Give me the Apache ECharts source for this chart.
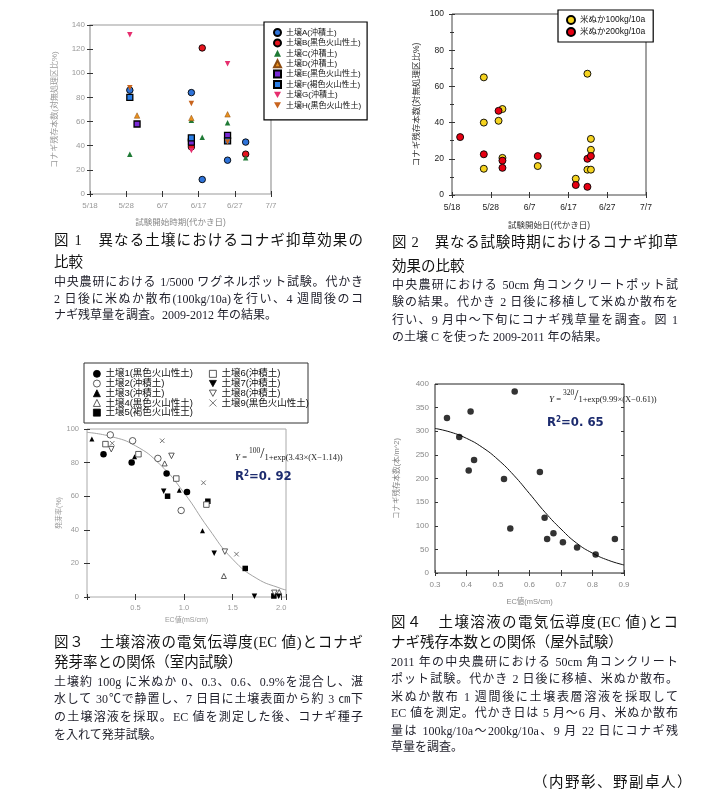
<!DOCTYPE html>
<html><head><meta charset="utf-8">
<script src="https://cdn.jsdelivr.net/npm/echarts/dist/echarts.min.js"></script>
<style>
html,body{margin:0;padding:0;background:#fff;width:705px;height:791px;overflow:hidden}
#chart{position:absolute;left:0;top:0;width:705px;height:791px}
.cap{position:absolute;white-space:nowrap;line-height:1;font-family:"Liberation Serif","Noto Sans CJK JP",serif;color:#1e1e2a}
.j{text-align:justify;text-align-last:justify}
.r{text-align:right}
</style></head><body>
<div id="chart"></div>
<div id="caps"></div>
<script>
// ---------- DATA ----------
// Fig.1 : x = days after 5/18 (代かき日), y = コナギ残存本数(対無処理区比%)
const fig1DateTicks = ['5/18','5/28','6/7','6/17','6/27','7/7'];
const soilA = [[11,86],[28,84],[31,12],[38,28],[43,43]];
const soilB = [[31,121],[28,39],[43,33]];
const soilC = [[11,33],[28,61],[31,47],[38,59],[43,30]];
const soilD = [[13,65],[28,63],[38,66]];
const soilE = [[13,58],[28,43],[38,48.5]];
const soilF = [[11,80],[28,46.5],[38,44]];
const soilG = [[11,132],[28,36],[38,108]];
const soilH = [[11,88],[28,75],[38,43]];
const fig1Names = ['土壌A(沖積土)','土壌B(黒色火山性土)','土壌C(沖積土)','土壌D(沖積土)','土壌E(黒色火山性土)','土壌F(褐色火山性土)','土壌G(沖積土)','土壌H(黒色火山性土)'];

// Fig.2 : x = days after 5/18
const fig2DateTicks = ['5/18','5/28','6/7','6/17','6/27','7/7'];
const rice100 = [[8.2,65],[8.2,40],[8.2,14.5],[12,41],[13,47.5],[13,20.5],[22.1,16],[31.9,9],[34.9,67],[34.9,14],[35.8,14],[35.8,31],[35.8,25]];
const rice200 = [[2.1,32],[8.2,22.5],[12,46.5],[13,19],[13,15],[22.1,21.5],[31.9,5.5],[34.9,20],[34.9,4.5],[35.8,21.5]];
const fig2Names = ['米ぬか100kg/10a','米ぬか200kg/10a'];

// Fig.3 : x = EC値(mS/cm), y = 発芽率(%)
const soil1 = [[0.17,85],[0.46,80],[0.82,73.5],[1.03,62.5]];
const soil2 = [[0.24,96.5],[0.47,93],[0.73,82.5],[0.97,51.5]];
const soil3 = [[0.05,94],[0.49,83.5],[0.95,63.5],[1.19,39.5]];
const soil4 = [[0.80,79.5],[1.41,12.5],[1.98,3]];
const soil5 = [[0.83,60],[1.245,57],[1.63,17],[1.925,0.6]];
const soil6 = [[0.19,91],[0.53,85],[0.92,70.5],[1.23,55]];
const soil7 = [[0.79,63],[1.31,26],[1.725,0.5],[1.975,0.5]];
const soil8 = [[0.25,88],[0.87,84],[1.42,27],[1.93,2.5]];
const soil9 = [[0.26,91.5],[0.775,93],[1.2,68],[1.54,25.5]];
const fig3Names = ['土壌1(黒色火山性土)','土壌2(沖積土)','土壌3(沖積土)','土壌4(黒色火山性土)','土壌5(褐色火山性土)','土壌6(沖積土)','土壌7(沖積土)','土壌8(沖積土)','土壌9(黒色火山性土)'];
const fig3CurveX = [0,0.25,0.5,0.75,1.0,1.25,1.5,1.75,2.0,2.05];
const fig3CurveY = [98,95.5,90,79,62,41,22.5,11,5,4.2];

// Fig.4 : x = EC値(mS/cm), y = コナギ残存本数(本/m^2)
const fig4EC    = [0.338,0.377,0.407,0.413,0.424,0.519,0.539,0.553,0.633,0.648,0.656,0.676,0.706,0.751,0.81,0.871];
const fig4Count = [328,288,217,342,239,199,94,384,214,117,72,84,65,54,39,72];
const fig4CurveX = [0.3,0.35,0.4,0.45,0.5,0.55,0.6,0.65,0.7,0.75,0.8,0.85,0.9];
const fig4CurveY = [306,298,285,266,240,207,168,128,93,63,42,27,17];

// ---------- CHART ----------
const SANS = '"Liberation Sans","Noto Sans CJK JP",sans-serif';
const NARROW = '"Liberation Sans Narrow","DejaVu Sans Condensed","Liberation Sans",sans-serif';
const DOWN = 'path://M0,0L10,0L5,9Z';
const CROSS = 'path://M0,0L10,10M10,0L0,10';

function grid(l,t,w,h,c,bw){return {left:l,top:t,width:w,height:h,show:true,borderColor:c,borderWidth:bw};}
function axis(gi,pos,min,max,interval,o){
  const a={type:'value',gridIndex:gi,position:pos,min:min,max:max,interval:interval,
    axisLine:{show:false},splitLine:{show:false},
    axisTick:{show:true,inside:true,length:o.tickLen||3,lineStyle:{color:o.tickColor||'#333',width:1}},
    axisLabel:{show:!!o.labels,color:o.labelColor||'#333',fontSize:o.fontSize||8,margin:o.margin||4,fontFamily:SANS,formatter:o.formatter}};
  if(o.minor){a.minorTick={show:true,splitNumber:o.minor,length:2,lineStyle:{color:o.tickColor||'#333'}};}
  if(o.name){a.name=o.name;a.nameLocation='middle';a.nameGap=o.nameGap;
    a.nameTextStyle={color:o.nameColor||'#333',fontSize:o.nameSize||8,fontFamily:SANS};}
  return a;
}
function sc(name,data,ai,symbol,size,color,bc,bw,z){
  return {type:'scatter',name:name,data:data,xAxisIndex:ai,yAxisIndex:ai,symbol:symbol,symbolSize:size,
    itemStyle:{color:color,borderColor:bc||color,borderWidth:bw||0,opacity:1},z:z||2,emphasis:{disabled:true}};
}
const dateFmt = ticks => v => { const i=Math.round(v/10); return (Math.abs(v-i*10)<1e-6 && ticks[i])?ticks[i]:''; };

const option={
  animation:false,
  textStyle:{fontFamily:SANS},
  grid:[grid(90,25,181,169,'#999',1.2),grid(452,14,194,181,'#444',1),grid(87,429,199,168,'#aaa',1),grid(435,384,189,189,'#222',1)],
  xAxis:[
    axis(0,'bottom',0,50,10,{labels:true,labelColor:'#999',fontSize:8,margin:8,formatter:dateFmt(fig1DateTicks),name:'試験開始時期(代かき日)',nameGap:24,nameColor:'#888',nameSize:8.5}),
    axis(0,'top',0,50,10,{}),
    axis(1,'bottom',0,50,10,{labels:true,labelColor:'#222',fontSize:8.5,margin:8,formatter:dateFmt(fig2DateTicks),name:'試験開始日(代かき日)',nameGap:26,nameColor:'#333',nameSize:8.5}),
    axis(1,'top',0,50,10,{}),
    axis(2,'bottom',0,2.05,0.5,{labels:true,labelColor:'#999',fontSize:7.5,margin:7,formatter:v=>([0.5,1,1.5,2].some(t=>Math.abs(t-v)<1e-6)?v.toFixed(1):''),name:'EC値(mS/cm)',nameGap:20,nameColor:'#999',nameSize:7}),
    axis(2,'top',0,2.05,0.5,{}),
    axis(3,'bottom',0.3,0.9,0.1,{labels:true,labelColor:'#888',fontSize:8,margin:8,formatter:v=>v.toFixed(1),name:'EC値(mS/cm)',nameGap:25,nameColor:'#888',nameSize:7.5}),
    axis(3,'top',0.3,0.9,0.1,{})
  ],
  yAxis:[
    axis(0,'left',0,140,20,{labels:true,labelColor:'#999',fontSize:8,margin:5,name:'コナギ残存本数(対無処理区比%)',nameGap:31,nameColor:'#999',nameSize:8}),
    axis(0,'right',0,140,20,{}),
    axis(1,'left',0,100,20,{labels:true,labelColor:'#222',fontSize:8.5,margin:8,minor:2,name:'コナギ残存本数(対無処理区比%)',nameGap:31,nameColor:'#333',nameSize:8.5}),
    axis(1,'right',0,100,20,{minor:2}),
    axis(2,'left',0,100,20,{labels:true,labelColor:'#999',fontSize:7.5,margin:8,name:'発芽率(%)',nameGap:22,nameColor:'#999',nameSize:7}),
    axis(2,'right',0,100,20,{}),
    axis(3,'left',0,400,50,{labels:true,labelColor:'#888',fontSize:8,margin:6,name:'コナギ残存本数(本/m^2)',nameGap:34,nameColor:'#888',nameSize:7.5}),
    axis(3,'right',0,400,50,{})
  ],
  legend:[
    {data:fig1Names,left:264,top:22,orient:'vertical',padding:[6,6,10,9],itemGap:1.4,itemWidth:7,itemHeight:7,
     textStyle:{fontSize:8,lineHeight:9,color:'#111',fontFamily:SANS},borderColor:'#000',borderWidth:1.2,backgroundColor:'#fff',selectedMode:false},
    {data:fig2Names,left:558,top:10,orient:'vertical',padding:[5,8,5,8],itemGap:2,itemWidth:8,itemHeight:8,
     textStyle:{fontSize:8.5,lineHeight:9,color:'#111',fontFamily:SANS},borderColor:'#000',borderWidth:1.2,backgroundColor:'#fff',selectedMode:false},
    {data:fig3Names.slice(0,5),left:93,top:369,orient:'vertical',padding:0,itemGap:0,itemWidth:7,itemHeight:7,
     textStyle:{fontSize:9.5,lineHeight:9.7,color:'#111',fontFamily:SANS},selectedMode:false,itemStyle:{borderWidth:0.8}},
    {data:fig3Names.slice(5),left:209,top:369,orient:'vertical',padding:0,itemGap:0,itemWidth:7,itemHeight:7,
     textStyle:{fontSize:9.5,lineHeight:9.7,color:'#111',fontFamily:SANS},selectedMode:false,itemStyle:{borderWidth:0.8}}
  ],
  graphic:[
    {type:'rect',z:-1,shape:{x:84,y:363,width:224,height:60},style:{fill:'#fff',stroke:'#333',lineWidth:1}},
    {type:'text',left:235,top:447,z:10,style:{text:'{i|Y}{n| = }{s|100}{sl|/}{n|1+exp(3.43×(X−1.14))}',fill:'#222',
      rich:{i:{fontStyle:'italic',fontSize:9,fontFamily:'"Liberation Serif"',verticalAlign:'bottom'},
            n:{fontSize:8.5,fontFamily:'"Liberation Serif"',verticalAlign:'bottom'},
            s:{fontSize:7.5,fontFamily:'"Liberation Serif"',verticalAlign:'top'},
            sl:{fontSize:15,fontFamily:'"Liberation Serif"'}}}},
    {type:'text',left:235,top:470,z:10,style:{text:'{r|R}{p|2}{r|=0. 92}',
      rich:{r:{fontSize:13,fontWeight:'bold',fontFamily:NARROW,fill:'#1c2b6e',verticalAlign:'bottom'},
            p:{fontSize:8,fontWeight:'bold',fontFamily:NARROW,fill:'#1c2b6e',verticalAlign:'top'}}}},
    {type:'text',left:549,top:389,z:10,style:{text:'{i|Y}{n| = }{s|320}{sl|/}{n|1+exp(9.99×(X−0.61))}',fill:'#222',
      rich:{i:{fontStyle:'italic',fontSize:9,fontFamily:'"Liberation Serif"',verticalAlign:'bottom'},
            n:{fontSize:8.5,fontFamily:'"Liberation Serif"',verticalAlign:'bottom'},
            s:{fontSize:7.5,fontFamily:'"Liberation Serif"',verticalAlign:'top'},
            sl:{fontSize:15,fontFamily:'"Liberation Serif"'}}}},
    {type:'text',left:547,top:416,z:10,style:{text:'{r|R}{p|2}{r|=0. 65}',
      rich:{r:{fontSize:13,fontWeight:'bold',fontFamily:NARROW,fill:'#1c2b6e',verticalAlign:'bottom'},
            p:{fontSize:8,fontWeight:'bold',fontFamily:NARROW,fill:'#1c2b6e',verticalAlign:'top'}}}}
  ],
  series:[
    // Fig.1
    sc(fig1Names[0],soilA,0,'circle',6.5,'#2e73d9','#000',0.9),
    sc(fig1Names[1],soilB,0,'circle',6.5,'#e6141e','#000',0.9),
    sc(fig1Names[2],soilC,0,'triangle',5.5,'#1f7a35'),
    sc(fig1Names[3],soilD,0,'triangle',5.5,'#e8901e','#8a4a10',0.5),
    sc(fig1Names[4],soilE,0,'rect',6,'#7a2ad6','#000',1.3),
    sc(fig1Names[5],soilF,0,'rect',6,'#2a7ee6','#000',1.3),
    sc(fig1Names[6],soilG,0,DOWN,5.5,'#e62e6e'),
    sc(fig1Names[7],soilH,0,DOWN,5.5,'#c8641e'),
    // Fig.2
    sc(fig2Names[0],rice100,2,'circle',7,'#f5d31f','#000',0.9),
    sc(fig2Names[1],rice200,2,'circle',7,'#e60012','#000',0.9),
    // Fig.3
    {type:'line',data:fig3CurveX.map((x,i)=>[x,fig3CurveY[i]]),xAxisIndex:4,yAxisIndex:4,smooth:true,showSymbol:false,
     lineStyle:{color:'#999',width:0.9},z:1,silent:true},
    sc(fig3Names[0],soil1,4,'circle',6.5,'#000'),
    sc(fig3Names[1],soil2,4,'circle',6.5,'#fff','#333',0.8),
    sc(fig3Names[2],soil3,4,'triangle',5,'#000'),
    sc(fig3Names[3],soil4,4,'triangle',5,'#fff','#333',0.8),
    sc(fig3Names[4],soil5,4,'rect',5.5,'#000'),
    sc(fig3Names[5],soil6,4,'rect',5.5,'#fff','#333',0.8),
    sc(fig3Names[6],soil7,4,DOWN,5.5,'#000'),
    sc(fig3Names[7],soil8,4,DOWN,5.5,'#fff','#333',0.8),
    sc(fig3Names[8],soil9,4,CROSS,4.5,'transparent','#555',0.8),
    // Fig.4
    {type:'line',data:fig4CurveX.map((x,i)=>[x,fig4CurveY[i]]),xAxisIndex:6,yAxisIndex:6,smooth:true,showSymbol:false,
     lineStyle:{color:'#111',width:1},z:1,silent:true},
    {type:'scatter',name:'fig4',data:fig4EC.map((x,i)=>[x,fig4Count[i]]),xAxisIndex:6,yAxisIndex:6,symbol:'circle',symbolSize:6.5,
     itemStyle:{color:'#000'},z:2}
  ]
};
echarts.init(document.getElementById('chart'),null,{renderer:'canvas'}).setOption(option);

// ---------- CAPTIONS (text) ----------
const captions=[
  {x:54,w:309,lines:[
    ['図 1　異なる土壌におけるコナギ抑草効果の',240,14.5,'j'],['比較',262,14.5,''],
    ['中央農研における 1/5000 ワグネルポット試験。代かき',282,12,'j'],
    ['2 日後に米ぬか散布(100kg/10a)を行い、4 週間後のコ',299,12,'j'],
    ['ナギ残草量を調査。2009-2012 年の結果。',315,12,'']]},
  {x:392,w:286,lines:[
    ['図 2　異なる試験時期におけるコナギ抑草',242,14.5,'j'],['効果の比較',266,14.5,''],
    ['中央農研における 50cm 角コンクリートポット試',285,12,'j'],
    ['験の結果。代かき 2 日後に移植して米ぬか散布を',302,12,'j'],
    ['行い、9 月中～下旬にコナギ残草量を調査。図 1',320,12,'j'],
    ['の土壌 C を使った 2009-2011 年の結果。',337,12,'']]},
  {x:54,w:309,lines:[
    ['図３　土壌溶液の電気伝導度(EC 値)とコナギ',642,14.5,'j'],['発芽率との関係（室内試験）',662,14.5,''],
    ['土壌約 100g に米ぬか 0、0.3、0.6、0.9%を混合し、湛',682,12,'j'],
    ['水して 30℃で静置し、7 日目に土壌表面から約 3 ㎝下',699,12,'j'],
    ['の土壌溶液を採取。EC 値を測定した後、コナギ種子',717,12,'j'],
    ['を入れて発芽試験。',735,12,'']]},
  {x:391,w:287,lines:[
    ['図４　土壌溶液の電気伝導度(EC 値)とコ',622,14.5,'j'],['ナギ残存本数との関係（屋外試験）',642,14.5,''],
    ['2011 年の中央農研における 50cm 角コンクリート',662,12,'j'],
    ['ポット試験。代かき 2 日後に移植、米ぬか散布。',679,12,'j'],
    ['米ぬか散布 1 週間後に土壌表層溶液を採取して',697,12,'j'],
    ['EC 値を測定。代かき日は 5 月～6 月、米ぬか散布',713,12,'j'],
    ['量は 100kg/10a～200kg/10a、9 月 22 日にコナギ残',731,12,'j'],
    ['草量を調査。',747,12,'']]},
  {x:500,w:193,lines:[['（内野彰、野副卓人）',782,14.5,'r']]}
];
const host=document.getElementById('caps');
captions.forEach(c=>c.lines.forEach(([t,y,s,cls])=>{
  const d=document.createElement('div');
  d.className='cap '+cls;
  d.textContent=t;
  d.style.left=c.x+'px';d.style.width=c.w+'px';
  d.style.top=(y-s*0.5)+'px';d.style.fontSize=s+'px';
  if(cls==='r'){d.style.letterSpacing='1.5px';}
  if(s>13){d.style.color='#111';}
  host.appendChild(d);
}));
</script>
</body></html>
